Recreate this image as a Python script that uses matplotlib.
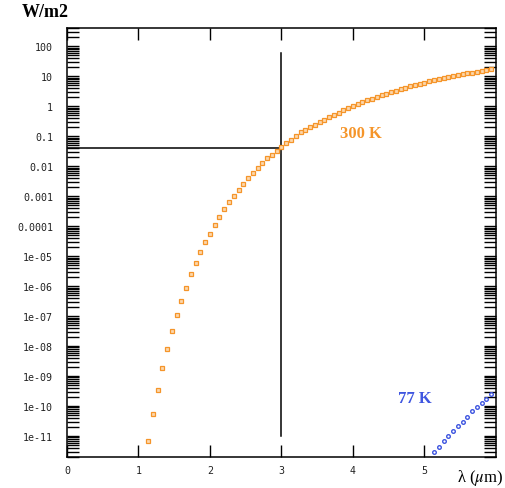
import numpy as np
import matplotlib
matplotlib.use('Agg')
import matplotlib.pyplot as plt
from matplotlib.ticker import FixedLocator, LogLocator, NullFormatter, NullLocator

plt.rcParams['mathtext.fontset'] = 'stix'

# wavelength (um) and radiance (W/m2)
lam_300 = [1.133, 1.2, 1.267, 1.333, 1.4, 1.467, 1.533, 1.6, 1.667, 1.733,
           1.8, 1.867, 1.933, 2.0, 2.067, 2.133, 2.2, 2.267, 2.333, 2.4,
           2.467, 2.533, 2.6, 2.667, 2.733, 2.8, 2.867, 2.933, 3.0, 3.067,
           3.133, 3.2, 3.267, 3.333, 3.4, 3.467, 3.533, 3.6, 3.667, 3.733,
           3.8, 3.867, 3.933, 4.0, 4.067, 4.133, 4.2, 4.267, 4.333, 4.4,
           4.467, 4.533, 4.6, 4.667, 4.733, 4.8, 4.867, 4.933, 5.0, 5.067,
           5.133, 5.2, 5.267, 5.333, 5.4, 5.467, 5.533, 5.6, 5.667, 5.733,
           5.8, 5.867, 5.933]
w_300 = [6.9e-12, 5.3e-11, 3.4e-10, 1.8e-9, 8.3e-9, 3.1e-8, 1.05e-7, 3.2e-7,
         8.9e-7, 2.5e-6, 5.8e-6, 1.35e-5, 2.9e-5, 5.5e-5, 1.07e-4, 2.0e-4,
         3.7e-4, 6.5e-4, 1.02e-3, 1.6e-3, 2.6e-3, 4.2e-3, 6.0e-3, 8.8e-3,
         1.26e-2, 1.85e-2, 2.46e-2, 3.2e-2, 0.0432, 0.0574, 0.078, 0.106,
         0.134, 0.164, 0.198, 0.241, 0.295, 0.357, 0.433, 0.52, 0.616, 0.73,
         0.864, 1.02, 1.18, 1.37, 1.57, 1.81, 2.06, 2.35, 2.65, 2.98, 3.34,
         3.72, 4.14, 4.61, 5.10, 5.59, 6.13, 6.72, 7.31, 7.96, 8.66, 9.35,
         10.1, 10.9, 11.7, 12.5, 13.4, 14.3, 15.2, 16.1, 17.2]

lam_77 = [5.133, 5.2, 5.267, 5.333, 5.4, 5.467, 5.533, 5.6, 5.667, 5.733,
          5.8, 5.867, 5.933]
w_77 = [2.9e-12, 4.3e-12, 6.9e-12, 1.0e-11, 1.48e-11, 2.13e-11, 3.0e-11,
        4.45e-11, 6.6e-11, 9.3e-11, 1.31e-10, 1.78e-10, 2.46e-10]

# guide lines at 3 um
vline_x = [3, 3]
vline_y = [1e-11, 60]
hline_x = [0, 3]
hline_y = [0.04, 0.04]

xticks = [0, 1, 2, 3, 4, 5]
yticks = [1e2, 1e1, 1, 0.1, 0.01, 0.001, 0.0001, 1e-5, 1e-6, 1e-7, 1e-8,
          1e-9, 1e-10, 1e-11]
ylabels = ['100', '10', '1', '0.1', '0.01', '0.001', '0.0001', '1e-05',
           '1e-06', '1e-07', '1e-08', '1e-09', '1e-10', '1e-11']

orange = '#f5952a'
blue = '#3f56e0'

fig = plt.figure(figsize=(5.06, 4.89), dpi=100)
ax = fig.add_axes([0.1324, 0.0634, 0.8478, 0.8767])

ax.plot(vline_x, vline_y, color='black', lw=1.1)
ax.plot(hline_x, hline_y, color='black', lw=1.1)
ax.plot(lam_300, w_300, 's', ms=2.7, mfc='#fcd8ae', mec=orange, mew=0.9,
        ls='none')
ax.plot(lam_77, w_77, 'o', ms=2.6, mfc='none', mec=blue, mew=1.0, ls='none')

ax.set_yscale('log')
ax.set_xlim(0, 6)
ax.set_ylim(2e-12, 400)

ax.xaxis.set_major_locator(FixedLocator(xticks))
ax.xaxis.set_minor_locator(NullLocator())
ax.yaxis.set_major_locator(FixedLocator(yticks))
ax.set_yticklabels(ylabels)
ax.yaxis.set_minor_locator(LogLocator(base=10, subs=np.arange(2, 10), numticks=30))
ax.yaxis.set_minor_formatter(NullFormatter())

ax.tick_params(axis='both', which='both', direction='in', length=8.6,
               width=1, top=True, right=True, colors='black')
ax.tick_params(axis='y', which='both', pad=10)
ax.tick_params(axis='x', which='both', pad=6)
for lab in ax.get_xticklabels() + ax.get_yticklabels():
    lab.set_fontfamily('DejaVu Sans Mono')
    lab.set_fontsize(7.2)
    lab.set_color('#222222')
for sp in ax.spines.values():
    sp.set_linewidth(1.1)

ax.text(4.11, 0.128, '300 K', color=orange, fontsize=12, fontweight='bold',
        family='Liberation Serif', ha='center', va='center')
ax.text(4.87, 1.9e-10, '77 K', color=blue, fontsize=12, fontweight='bold',
        family='Liberation Serif', ha='center', va='center')

fig.text(45 / 506, 1 - 12.5 / 489, 'W/m2', fontsize=13, fontweight='bold',
         family='Liberation Serif', ha='center', va='center')
fig.text(480 / 506, 1 - 478 / 489, r'λ ($\mu$m)', fontsize=12,
         family='Liberation Serif', ha='center', va='center')

fig.savefig('out.png', dpi=100)
